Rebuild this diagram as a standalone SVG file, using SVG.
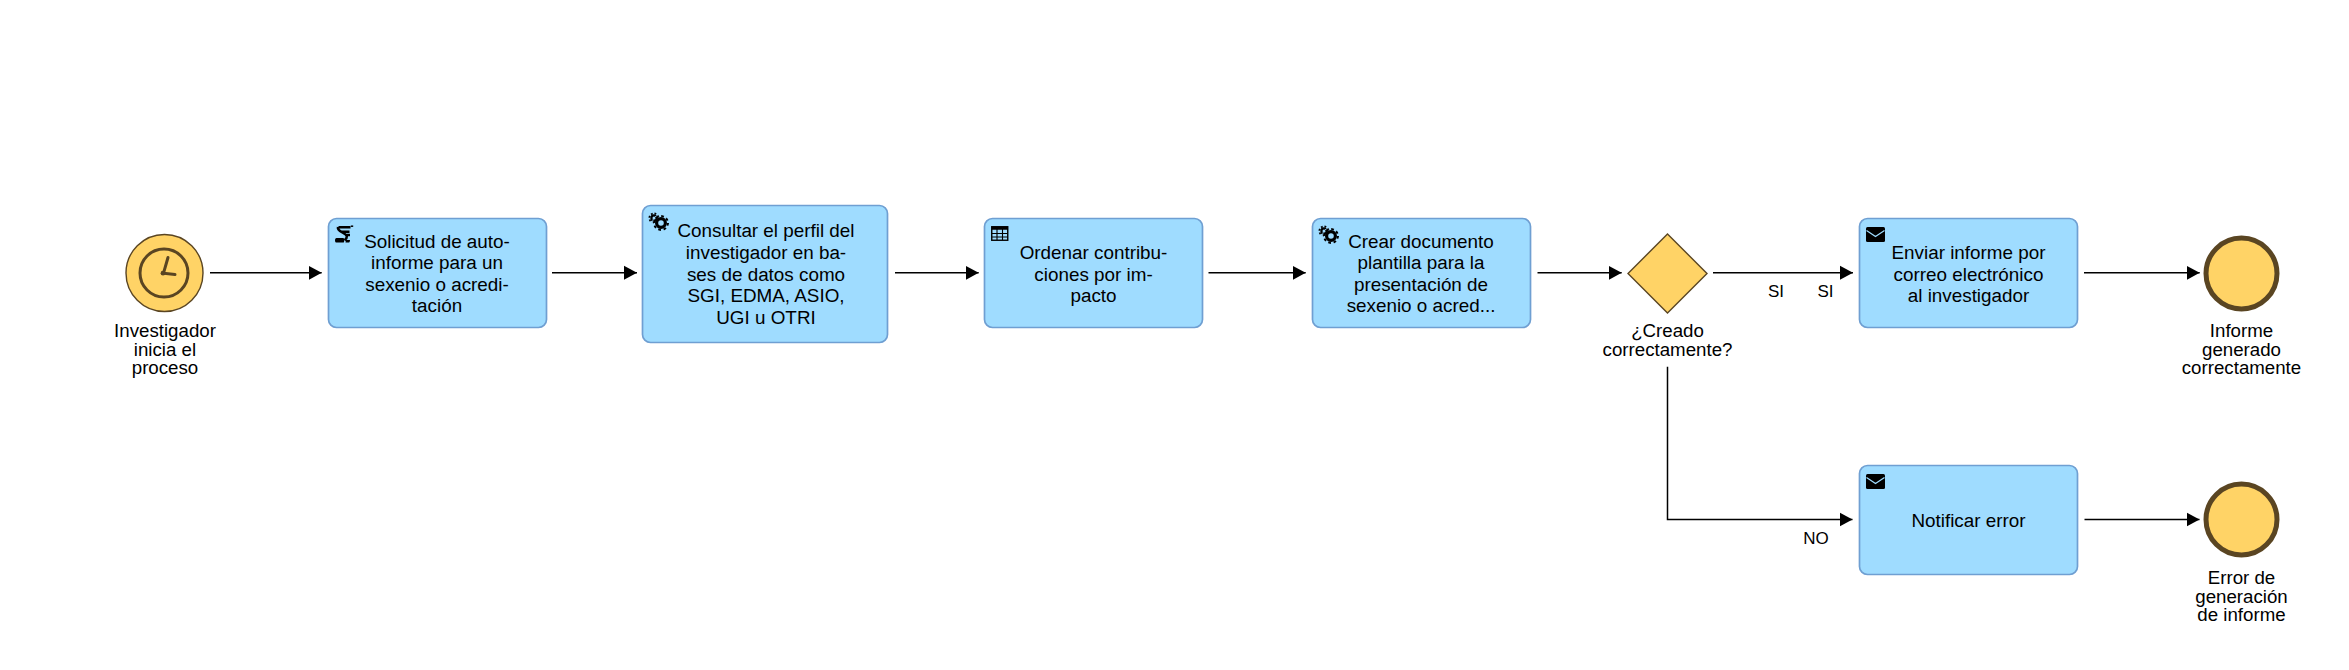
<svg xmlns="http://www.w3.org/2000/svg" xmlns:xlink="http://www.w3.org/1999/xlink" width="2349" height="670" viewBox="0 0 2349 670">
<style>
text{font-family:"Liberation Sans",Arial,sans-serif;fill:#000;text-anchor:middle}
.t{font-size:18.85px}
.l{font-size:18.7px}
.e{font-size:17px}
.task{fill:#9fdcff;stroke:#6f9fd2;stroke-width:1.7}
.ev{fill:#ffd366;stroke:#5a4522;stroke-width:1.4}
.end{fill:#ffd366;stroke:#5a4522;stroke-width:5}
.ck{fill:none;stroke:#5a4522;stroke-width:3;stroke-linecap:round}
.cn{fill:none;stroke:#000;stroke-width:1.5;marker-end:url(#arrow)}
</style>
<defs>
<marker id="arrow" markerUnits="userSpaceOnUse" markerWidth="14" markerHeight="16" refX="13" refY="7.5" orient="auto">
<path d="M0,0.5 L13,7.5 L0,14.5 Z" fill="#000"/>
</marker>
<g id="gear">
<circle cx="12" cy="11" r="4.4" fill="none" stroke="#000" stroke-width="3.2"/>
<circle cx="12" cy="11" r="7" fill="none" stroke="#000" stroke-width="2" stroke-dasharray="2.75 2.75"/>
<circle cx="5" cy="6" r="2.6" fill="none" stroke="#000" stroke-width="2.2"/>
<circle cx="5" cy="6" r="4.6" fill="none" stroke="#000" stroke-width="1.8" stroke-dasharray="1.8 1.8"/>
<circle cx="12" cy="11" r="8.6" fill="none" stroke="#9fdcff" stroke-width="0.8"/>
</g>
<g id="mail">
<rect x="0" y="0" width="19" height="15" rx="1.5" fill="#000"/>
<path d="M0.5,3.5 L9.500,9.500 L18.500,3.500" fill="none" stroke="#9fdcff" stroke-width="1.3"/>
</g>
<g id="table">
<rect x="0.75" y="0.75" width="16" height="13.5" fill="none" stroke="#000" stroke-width="1.4"/>
<rect x="0.75" y="0.75" width="16" height="3" fill="#000"/>
<path d="M6,1V14M11.5,1V14M1,7.500H16.500M1,11H16.500" fill="none" stroke="#000" stroke-width="1.1"/>
</g>
<g id="script">
<path d="M3.500,2.200H15.500M3,2.200C1.500,7 11.500,7.500 11.800,11.500C12,13.500 10.500,14.500 9.500,15.200M6.500,6.700H14.500M10.500,10H15" fill="none" stroke="#000" stroke-width="2.500"/>
<path d="M15.800,1.200H18.200" fill="none" stroke="#000" stroke-width="1.500"/>
<path d="M1.500,13H8.500C9.500,14.200 9.500,15.500 8.800,17.600H1.500C-0.500,17.600 -0.500,13 1.500,13ZM11,15H15C15,16.500 14.500,17.600 13.500,17.600H10.500Z" fill="#000"/>
</g>
</defs>
<g id="connectors">
<path class="cn" d="M210,272.800H321.700"/>
<path class="cn" d="M552,272.800H637"/>
<path class="cn" d="M895,272.800H978.700"/>
<path class="cn" d="M1208.500,272.800H1305.700"/>
<path class="cn" d="M1537.500,272.800H1621.700"/>
<path class="cn" d="M1713,272.800H1853"/>
<path class="cn" d="M2084,272.800H2199.700"/>
<path class="cn" d="M1667.500,366.700V519.500H1852.500"/>
<path class="cn" d="M2084.500,519.500H2199.500"/>
<text class="e" x="1776" y="297">SI</text>
<text class="e" x="1825.500" y="297">SI</text>
<text class="e" x="1816" y="544">NO</text>
</g>
<g id="start">
<circle class="ev" cx="164.500" cy="273" r="38.500"/>
<circle class="ck" cx="164" cy="273" r="24"/>
<path class="ck" d="M168,257.500L163.500,273.200L175,274.500"/>
<circle cx="163" cy="273.200" r="2.400" fill="#5a4522"/>
<text class="l"><tspan x="165" y="337">Investigador</tspan><tspan x="165" y="356">inicia el</tspan><tspan x="165" y="374">proceso</tspan></text>
</g>
<g id="task1">
<rect class="task" x="328.500" y="218.500" width="218" height="109" rx="8"/>
<use xlink:href="#script" href="#script" x="335" y="225"/>
<text class="t"><tspan x="437" y="247.500">Solicitud de auto-</tspan><tspan x="437" y="269">informe para un</tspan><tspan x="437" y="290.700">sexenio o acredi-</tspan><tspan x="437" y="312">tación</tspan></text>
</g>
<g id="task2">
<rect class="task" x="642.500" y="205.500" width="245" height="137" rx="8"/>
<use xlink:href="#gear" href="#gear" x="649" y="212"/>
<text class="t"><tspan x="766" y="237">Consultar el perfil del</tspan><tspan x="766" y="259">investigador en ba-</tspan><tspan x="766" y="280.500">ses de datos como</tspan><tspan x="766" y="302">SGI, EDMA, ASIO,</tspan><tspan x="766" y="324">UGI u OTRI</tspan></text>
</g>
<g id="task3">
<rect class="task" x="984.500" y="218.500" width="218" height="109" rx="8"/>
<use xlink:href="#table" href="#table" x="991" y="226"/>
<text class="t"><tspan x="1093.500" y="259">Ordenar contribu-</tspan><tspan x="1093.500" y="280.500">ciones por im-</tspan><tspan x="1093.500" y="302">pacto</tspan></text>
</g>
<g id="task4">
<rect class="task" x="1312.500" y="218.500" width="218" height="109" rx="8"/>
<use xlink:href="#gear" href="#gear" x="1319" y="225"/>
<text class="t"><tspan x="1421" y="247.500">Crear documento</tspan><tspan x="1421" y="269">plantilla para la</tspan><tspan x="1421" y="290.700">presentación de</tspan><tspan x="1421" y="312">sexenio o acred...</tspan></text>
</g>
<g id="gateway">
<path class="ev" d="M1667.500,234L1707,273.500L1667.500,313L1628,273.500Z"/>
<text class="l"><tspan x="1667.500" y="337">¿Creado</tspan><tspan x="1667.500" y="356">correctamente?</tspan></text>
</g>
<g id="task5">
<rect class="task" x="1859.500" y="218.500" width="218" height="109" rx="8"/>
<use xlink:href="#mail" href="#mail" x="1866" y="227"/>
<text class="t"><tspan x="1968.500" y="259">Enviar informe por</tspan><tspan x="1968.500" y="280.500">correo electrónico</tspan><tspan x="1968.500" y="302">al investigador</tspan></text>
</g>
<g id="end1">
<circle class="end" cx="2241.500" cy="273.500" r="35.500"/>
<text class="l"><tspan x="2241.500" y="337">Informe</tspan><tspan x="2241.500" y="356">generado</tspan><tspan x="2241.500" y="374">correctamente</tspan></text>
</g>
<g id="task6">
<rect class="task" x="1859.500" y="465.500" width="218" height="109" rx="8"/>
<use xlink:href="#mail" href="#mail" x="1866" y="474"/>
<text class="t" x="1968.500" y="527">Notificar error</text>
</g>
<g id="end2">
<circle class="end" cx="2241.500" cy="519.500" r="35.500"/>
<text class="l"><tspan x="2241.500" y="584">Error de</tspan><tspan x="2241.500" y="603">generación</tspan><tspan x="2241.500" y="621">de informe</tspan></text>
</g>
</svg>
